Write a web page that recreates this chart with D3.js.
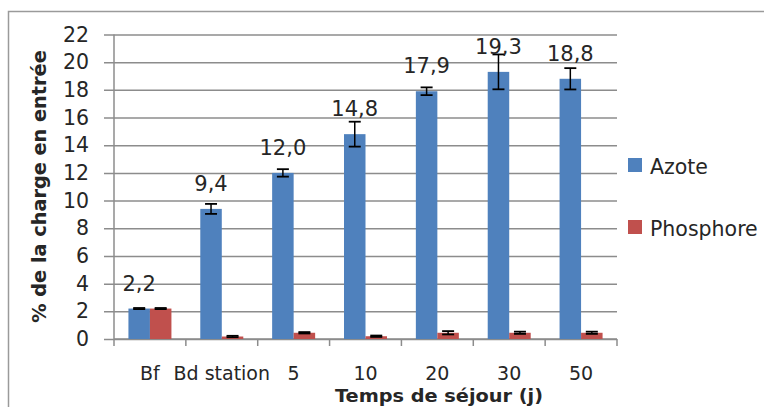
<!DOCTYPE html>
<html>
<head>
<meta charset="utf-8">
<script src="https://cdn.jsdelivr.net/npm/d3@7"></script>
<style>
  html, body { margin: 0; padding: 0; background: #fff; }
  svg { display: block; }
  text { font-family: "DejaVu Sans", sans-serif; fill: #262626; }
</style>
</head>
<body>
<div id="chart"></div>
<script>
const categories = ["Bf", "Bd station", "5", "10", "20", "30", "50"];
const seriesNames = ["Azote", "Phosphore"];
const azote = [2.2, 9.4, 12.0, 14.8, 17.9, 19.3, 18.8];
const azoteErr = [0.04, 0.36, 0.27, 0.9, 0.28, 1.26, 0.77];
const phosphore = [2.2, 0.18, 0.45, 0.2, 0.45, 0.45, 0.45];
const phosphoreErr = [0.04, 0.05, 0.05, 0.05, 0.12, 0.08, 0.08];
const azoteLabels = ["2,2", "9,4", "12,0", "14,8", "17,9", "19,3", "18,8"];
const yTicks = [0, 2, 4, 6, 8, 10, 12, 14, 16, 18, 20, 22];
const colors = ["#4F81BD", "#C0504D"];

const W = 764, H = 407;
const svg = d3.select("#chart").append("svg").attr("width", W).attr("height", H);

// outer border
svg.append("rect").attr("x", 8.5).attr("y", 11.5).attr("width", 800).attr("height", 500)
  .attr("fill", "none").attr("stroke", "#9a9a9a").attr("stroke-width", 1.5);

const pLeft = 114, pRight = 617, pTop = 34.5, pBottom = 339;
const x = d3.scaleBand().domain(categories).range([pLeft, pRight]).padding(0);
const groupW = 43;
const xs = d3.scaleBand().domain(seriesNames).range([0, groupW]);
const y = d3.scaleLinear().domain([0, 22]).range([pBottom, pTop]);

// gridlines + y ticks
const yAxis = d3.axisLeft(y).tickValues(yTicks).tickSize(pRight - pLeft + 10).tickSizeOuter(0)
  .tickFormat(d3.format("d")).tickPadding(15);
const gy = svg.append("g").attr("transform", `translate(${pRight},0)`).call(yAxis);
gy.select(".domain").remove();
gy.selectAll(".tick line").attr("stroke", "#8c8c8c").attr("stroke-width", 1.5);
gy.selectAll(".tick text").attr("font-size", 20.5).style("fill", "#262626")
  .attr("font-family", "'DejaVu Sans', sans-serif");
// y axis line
svg.append("line").attr("x1", pLeft).attr("x2", pLeft).attr("y1", pTop).attr("y2", pBottom)
  .attr("stroke", "#8c8c8c").attr("stroke-width", 1.5);

// x axis
const gx = svg.append("g").attr("transform", `translate(0,${pBottom})`);
gx.append("line").attr("x1", pLeft).attr("x2", pRight).attr("y1", 0).attr("y2", 0)
  .attr("stroke", "#8c8c8c").attr("stroke-width", 1.5);
const edges = categories.map(c => x(c)).concat([pRight]);
gx.selectAll("line.tk").data(edges).enter().append("line").attr("class", "tk")
  .attr("x1", d => d).attr("x2", d => d).attr("y1", 0).attr("y2", 7)
  .attr("stroke", "#8c8c8c").attr("stroke-width", 1.5);
gx.selectAll("text.cat").data(categories).enter().append("text").attr("class", "cat")
  .attr("x", d => x(d) + x.bandwidth() / 2).attr("y", 41)
  .attr("text-anchor", "middle").attr("font-size", 19).text(d => d);

// bars
const data = [azote, phosphore];
const errs = [azoteErr, phosphoreErr];
const off = (x.bandwidth() - groupW) / 2;
seriesNames.forEach((s, si) => {
  const g = svg.append("g");
  g.selectAll("rect").data(categories).enter().append("rect")
    .attr("x", (c) => x(c) + off + xs(s))
    .attr("width", xs.bandwidth())
    .attr("y", (c, i) => y(data[si][i]))
    .attr("height", (c, i) => pBottom - y(data[si][i]))
    .attr("fill", colors[si]);
  // error bars
  categories.forEach((c, i) => {
    const cx = x(c) + off + xs(s) + xs.bandwidth() / 2;
    const v = data[si][i], e = errs[si][i];
    const hi = y(v + e), lo = y(v - e);
    g.append("line").attr("x1", cx).attr("x2", cx).attr("y1", hi).attr("y2", lo)
      .attr("stroke", "#000").attr("stroke-width", 1.5);
    [hi, lo].forEach(yy => g.append("line").attr("x1", cx - 6).attr("x2", cx + 6)
      .attr("y1", yy).attr("y2", yy).attr("stroke", "#000").attr("stroke-width", 1.8));
  });
});

// data labels (Azote)
svg.append("g").selectAll("text").data(categories).enter().append("text")
  .attr("x", c => x(c) + off + xs("Azote") + xs.bandwidth() / 2)
  .attr("y", (c, i) => y(azote[i]) - 18)
  .attr("text-anchor", "middle").attr("font-size", 21)
  .text((c, i) => azoteLabels[i]);

// axis titles
svg.append("text").attr("x", 335).attr("y", 402)
  .attr("textLength", 208).attr("lengthAdjust", "spacingAndGlyphs")
  .attr("font-size", 18.5).attr("font-weight", "bold").text("Temps de séjour (j)");
svg.append("text").attr("transform", "translate(46,186.5) rotate(-90)")
  .attr("text-anchor", "middle").attr("font-size", 19.3).attr("font-weight", "bold")
  .text("% de la charge en entrée");

// legend
const lg = svg.append("g");
seriesNames.forEach((s, i) => {
  const yy = 165 + i * 62;
  lg.append("rect").attr("x", 628).attr("y", yy - 7).attr("width", 14).attr("height", 14)
    .attr("fill", colors[i]);
  lg.append("text").attr("x", 650).attr("y", yy + 8.5).attr("font-size", 20.5).text(s);
});
</script>
</body>
</html>
